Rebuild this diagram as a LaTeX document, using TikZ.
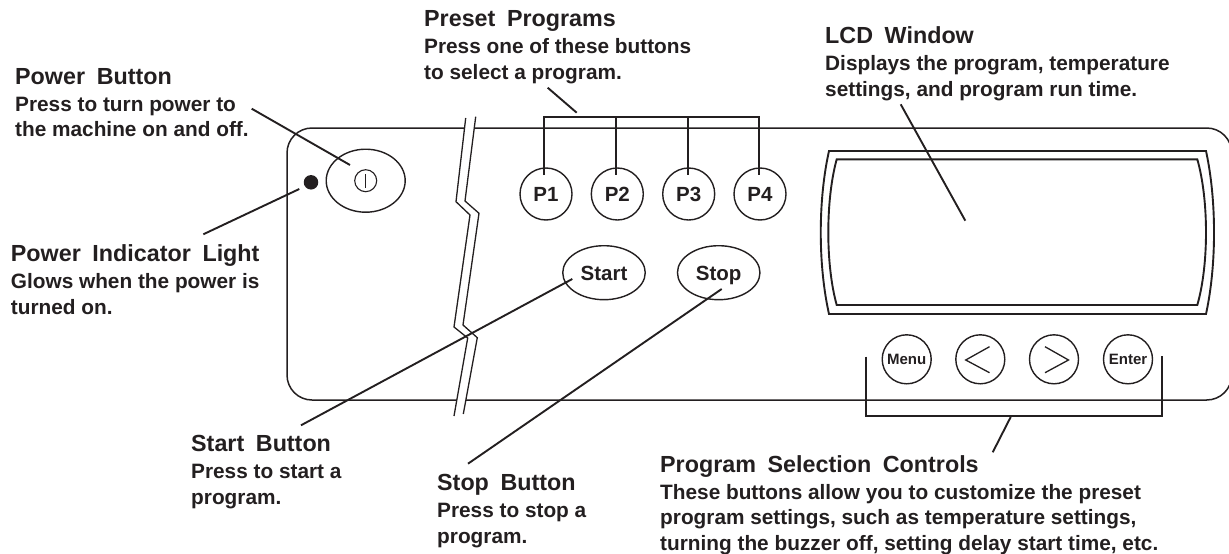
\documentclass[tikz,border=0pt]{standalone}
\usepackage{fontspec}
\setmainfont{Liberation Sans}
\usetikzlibrary{shapes.geometric}
\definecolor{ink}{HTML}{231F20}
\tikzset{
  x=1pt,y=-1pt,
  panel/.style={draw=ink,line width=1.5pt},
  leader/.style={draw=ink,line width=1.9pt},
  thin line/.style={draw=ink,line width=1.3pt},
  lcd/.style={draw=ink,line width=1.9pt,line join=miter},
  button/.style={circle,draw=ink,line width=1.4pt,fill=white,inner sep=0pt,minimum size=52pt,font=\bfseries\fontsize{20.5}{22}\selectfont,text=ink,text height=15pt,text depth=0pt},
  smallbutton/.style={button,minimum size=49pt,font=\bfseries\fontsize{15}{17}\selectfont,text height=11pt,text depth=0pt},
  ovalbutton/.style={ellipse,draw=ink,line width=1.4pt,fill=white,inner sep=0pt,minimum width=82.5pt,minimum height=54pt,font=\bfseries\fontsize{20.5}{22}\selectfont,text=ink,text height=15pt,text depth=0pt},
  note/.style={anchor=north west,inner sep=0pt,align=left,text=ink,font=\bfseries\fontsize{20.8}{25.5}\selectfont},
}
\newcommand{\hd}[1]{\rule{0pt}{20pt}{\fontsize{23.3}{25.5}\selectfont\spaceskip=0.5em #1}\\[1.5pt]}
\begin{document}
\begin{tikzpicture}
\useasboundingbox (0,0) rectangle (1229,554);
% panel
\draw[panel] (1231.7,153) arc[start angle=0,end angle=-90,radius=25] -- (312,128) arc[start angle=-90,end angle=-180,radius=25] -- (287,375) arc[start angle=180,end angle=90,radius=25] -- (1206.7,400) arc[start angle=90,end angle=0,radius=25];
% break
\fill[white] (465.7,118) -- (456,201.7) -- (470,215) -- (454,327) -- (467.7,338) -- (454,416) -- (463.3,414) -- (477.3,337.7) -- (463,325) -- (479,213.3) -- (465,201) -- (475.7,116.7) -- cycle;
\draw[thin line] (465.7,118) -- (456,201.7) -- (470,215) -- (454,327) -- (467.7,338) -- (454,416);
\draw[thin line] (475.7,116.7) -- (465,201) -- (479,213.3) -- (463,325) -- (477.3,337.7) -- (463.3,414);
% power
\node[ellipse,draw=ink,line width=1.4pt,inner sep=0pt,minimum width=79pt,minimum height=63pt] (power) at (365.7,180.7) {};
\node[circle,draw=ink,line width=1.1pt,inner sep=0pt,minimum size=22pt] (powersym) at (365.7,180.7) {};
\draw[ink,line width=1.1pt] (365.7,174) -- (365.7,188);
\node[circle,fill=ink,inner sep=0pt,minimum size=14.5pt] (lamp) at (311,182.3) {};
% preset buttons
\node[button] (p1) at (546,194) {P1};
\node[button] (p2) at (617.3,194) {P2};
\node[button] (p3) at (688.7,194) {P3};
\node[button] (p4) at (760,194) {P4};
\node[ovalbutton] (start) at (604,272.7) {Start};
\node[ovalbutton] (stop) at (718.7,272.7) {Stop};
% LCD
\draw[lcd] (829,151) -- (1206,151) .. controls (1216.7,200) and (1216.7,265) .. (1206,314) -- (829,314) .. controls (818,265) and (818,200) .. (829,151) -- cycle;
\draw[lcd] (836.7,159.3) -- (1197.3,159.3) .. controls (1208.9,200) and (1208.9,265) .. (1197.3,305) -- (836.7,305) .. controls (825.5,265) and (825.5,200) .. (836.7,159.3) -- cycle;
% small buttons
\node[smallbutton] (menu) at (906.7,359.3) {Menu};
\node[smallbutton] (left) at (980.3,359.3) {};
\node[smallbutton] (right) at (1054,359.3) {};
\node[smallbutton] (enter) at (1128,359.3) {Enter};
\draw[ink,line width=1.3pt] (989.5,346.7) -- (965.7,360) -- (989.5,372.7);
\draw[ink,line width=1.3pt] (1045,346.7) -- (1068.5,360) -- (1045,372.7);
% free ends
\coordinate (a1) at (251.7,108.7); \coordinate (a2) at (350,165);
\coordinate (b1) at (203.3,234.3); \coordinate (b2) at (299.3,189);
\coordinate (c1) at (547.7,87.7); \coordinate (c2) at (576.7,112.7);
\coordinate (d1) at (301,425.3); \coordinate (d2) at (572.3,279);
\coordinate (e1) at (468,463.7); \coordinate (e2) at (721.7,289);
\coordinate (f1) at (900.7,104.3); \coordinate (f2) at (965.3,220.7);
\coordinate (g1) at (1010.7,417); \coordinate (g2) at (992.7,452.3);
\coordinate (bt1) at (544,116.7); \coordinate (bb1) at (544,175);
\coordinate (bt2) at (616,116.7); \coordinate (bb2) at (616,175);
\coordinate (bt3) at (688,116.7); \coordinate (bb3) at (688,175);
\coordinate (bt4) at (759,116.7); \coordinate (bb4) at (759,175);
\coordinate (ml) at (866.3,356.7); \coordinate (mlb) at (866.3,415.7);
\coordinate (mr) at (1161.7,355.7); \coordinate (mrb) at (1161.7,415.7);
% leaders
\draw[leader] (a1) -- (a2);
\draw[leader] (b1) -- (b2);
\draw[leader] (c1) -- (c2);
\draw[leader] (d1) -- (d2);
\draw[leader] (e1) -- (e2);
\draw[leader] (f1) -- (f2);
\draw[leader] (g1) -- (g2);
% brackets
\draw[leader,line join=miter] (bb1) -- (bt1) -- (bt4) -- (bb4);
\draw[leader] (bt2) -- (bb2);
\draw[leader] (bt3) -- (bb3);
\draw[leader,line join=miter] (ml) -- (mlb) -- (mrb) -- (mr);
% text
\node[note] (t1) at (15,64) {\hd{Power Button}Press to turn power to\\the machine on and off.};
\node[note] (t2) at (424,6.7) {\hd{Preset Programs}Press one of these buttons\\to select a program.};
\node[note] (t3) at (825,23.3) {\hd{LCD Window}Displays the program, temperature\\settings, and program run time.};
\node[note] (t4) at (10.7,241.7) {\hd{Power Indicator Light}Glows when the power is\\turned on.};
\node[note] (t5) at (191,431.7) {\hd{Start Button}Press to start a\\program.};
\node[note] (t6) at (437,470.7) {\hd{Stop Button}Press to stop a\\program.};
\node[note] (t7) at (660,452) {\hd{Program Selection Controls}These buttons allow you to customize the preset\\program settings, such as temperature settings,\\turning the buzzer off, setting delay start time, etc.};
\end{tikzpicture}
\end{document}
